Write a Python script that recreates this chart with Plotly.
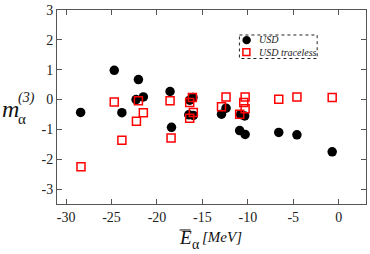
import plotly.graph_objects as go

# USD (filled circles)
usd_x = [-28.4, -24.7, -23.86, -22.04, -22.3, -21.5, -18.56, -18.4,
         -16.04, -16.4, -16.5, -16.0, -12.4, -12.9, -10.35, -10.8, -10.9, -10.3,
         -6.6, -4.6, -0.72]
usd_y = [-0.43, 0.98, -0.44, 0.67, 0.0, 0.09, 0.27, -0.93,
         0.07, -0.02, -0.51, -0.53, -0.29, -0.49, -0.55, -0.5, -1.04, -1.17,
         -1.10, -1.18, -1.75]

# USD traceless (open squares)
tl_x = [-28.36, -24.7, -23.86, -22.04, -22.26, -21.5, -18.56, -18.45,
        -16.1, -16.4, -16.0, -16.4, -12.4, -12.9, -10.3, -10.45, -10.3, -10.9,
        -6.6, -4.6, -0.72]
tl_y = [-2.25, -0.08, -1.36, -0.04, -0.73, -0.44, -0.04, -1.29,
        0.07, -0.1, -0.43, -0.63, 0.09, -0.24, 0.09, -0.1, -0.31, -0.49,
        0.01, 0.09, 0.07]

x_ticks = [-30, -25, -20, -15, -10, -5, 0]
y_ticks = [-3, -2, -1, 0, 1, 2, 3]
legend_names = ["USD", "USD traceless"]

SERIF = "Liberation Serif, Times New Roman, DejaVu Serif, serif"
W, H = 370, 254
ML, MR, MT, MB = 57, 3, 6, 50
PW, PH = W - ML - MR, H - MT - MB

def px(x):
    return (x - ML) / PW

def py(y):
    return (H - MB - y) / PH

fig = go.Figure()
fig.add_trace(go.Scatter(x=usd_x, y=usd_y, mode="markers", name=legend_names[0],
                         marker=dict(symbol="circle", size=9.5, color="black")))
fig.add_trace(go.Scatter(x=tl_x, y=tl_y, mode="markers", name=legend_names[1],
                         marker=dict(symbol="square-open", size=8, color="#ff0000",
                                     line=dict(width=1.5, color="#ff0000"))))

axis_common = dict(showline=True, linecolor="#555", linewidth=1, mirror="allticks",
                   ticks="inside", ticklen=5, tickcolor="#555", showgrid=False,
                   zeroline=False, ticklabeloverflow="allow",
                   tickfont=dict(family=SERIF, size=14, color="#222"))

fig.update_xaxes(range=[-31, 3], tickvals=x_ticks, ticktext=[str(v) for v in x_ticks],
                 **axis_common)
fig.update_yaxes(range=[-3.5, 3.002], tickvals=y_ticks, ticktext=[str(v) for v in y_ticks],
                 **axis_common)

annotations = [
    dict(text="<i>m</i>", x=px(10), y=py(107), font=dict(family=SERIF, size=24, color="#111")),
    dict(text="<i>(3)</i>", x=px(26), y=py(96), font=dict(family=SERIF, size=14, color="#111")),
    dict(text="α", x=px(22), y=py(117), font=dict(family=SERIF, size=15, color="#111")),
    dict(text="<i>E</i>", x=px(186), y=py(238), font=dict(family=SERIF, size=19, color="#111")),
    dict(text="α", x=px(196), y=py(245), font=dict(family=SERIF, size=14, color="#111")),
    dict(text="<i>[MeV]</i>", x=px(223), y=py(238), font=dict(family=SERIF, size=15, color="#111")),
    # legend texts
    dict(text="<i>%s</i>" % legend_names[0], x=px(259), y=py(43.0), xanchor="left",
         yanchor="bottom", borderpad=0, font=dict(family=SERIF, size=10, color="#222")),
    dict(text="<i>%s</i>" % legend_names[1], x=px(259), y=py(42.8), xanchor="left",
         yanchor="top", borderpad=0, font=dict(family=SERIF, size=10, color="#222")),
]
for a in annotations:
    a.setdefault("xanchor", "center")
    a.setdefault("yanchor", "middle")
    a.update(xref="paper", yref="paper", showarrow=False)

shapes = [
    dict(type="line", xref="paper", yref="paper", x0=px(180), x1=px(191), y0=py(230.5), y1=py(230.5),
         line=dict(color="#111", width=1)),
    dict(type="rect", xref="paper", yref="paper", x0=px(240), x1=px(318), y0=py(31.5), y1=py(55.5),
         line=dict(color="#222", width=1, dash="dot"), fillcolor="rgba(0,0,0,0)"),
    # legend keys
    dict(type="circle", xref="paper", yref="paper", x0=px(243), x1=px(251.5), y0=py(32.5), y1=py(41),
         line=dict(color="black", width=0), fillcolor="black"),
    dict(type="rect", xref="paper", yref="paper", x0=px(243.5), x1=px(250.5), y0=py(45.5), y1=py(52.5),
         line=dict(color="#ff0000", width=1.5), fillcolor="rgba(0,0,0,0)"),
]

fig.update_layout(
    width=W, height=H, margin=dict(l=ML, r=MR, t=MT, b=MB),
    paper_bgcolor="white", plot_bgcolor="white",
    showlegend=False,
    annotations=annotations, shapes=shapes,
)

fig.write_html("out.html", config={"displayModeBar": False},
               post_script="document.body.style.margin='0';")
